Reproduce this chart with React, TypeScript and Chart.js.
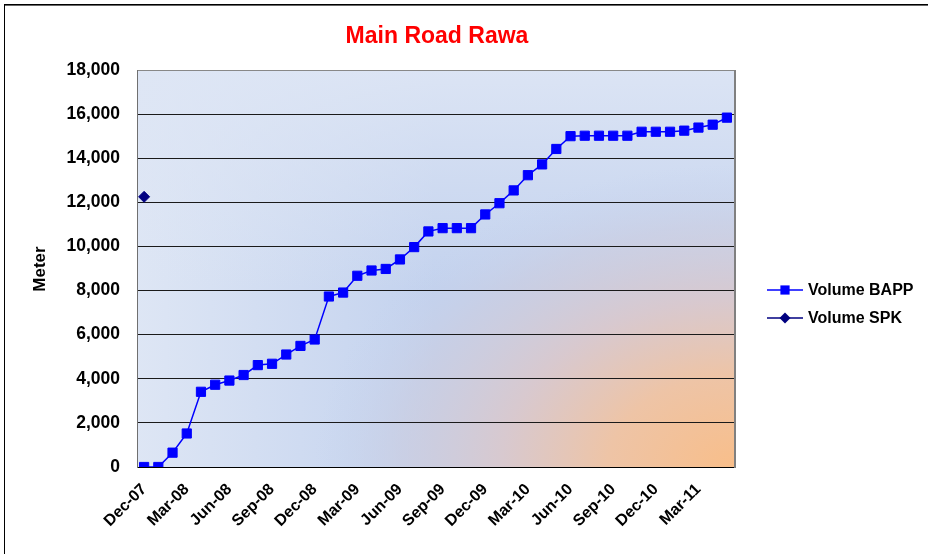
import React, { useEffect, useRef } from "react";
import { Chart, registerables } from "chart.js";

Chart.register(...registerables);

const months = [
  "Dec-07", "Jan-08", "Feb-08", "Mar-08", "Apr-08", "May-08", "Jun-08", "Jul-08", "Aug-08", "Sep-08", "Oct-08", "Nov-08",
  "Dec-08", "Jan-09", "Feb-09", "Mar-09", "Apr-09", "May-09", "Jun-09", "Jul-09", "Aug-09", "Sep-09", "Oct-09", "Nov-09",
  "Dec-09", "Jan-10", "Feb-10", "Mar-10", "Apr-10", "May-10", "Jun-10", "Jul-10", "Aug-10", "Sep-10", "Oct-10", "Nov-10",
  "Dec-10", "Jan-11", "Feb-11", "Mar-11", "Apr-11", "May-11",
];

const volumeBAPP = [
  0, 0, 650, 1520, 3410, 3730, 3920, 4170, 4620, 4680, 5100, 5490,
  5780, 7730, 7910, 8670, 8910, 8980, 9410, 9970, 10680, 10830, 10830, 10830,
  11450, 11960, 12540, 13230, 13720, 14420, 15000, 15020, 15020, 15020, 15020, 15200,
  15200, 15200, 15250, 15390, 15520, 15840,
];

const volumeSPK: (number | null)[] = [12250, ...new Array(41).fill(null)];

const yTicks = [0, 2000, 4000, 6000, 8000, 10000, 12000, 14000, 16000, 18000];

const TITLE = "Main Road Rawa";
const Y_TITLE = "Meter";
const FONT = '"Liberation Sans", Arial, sans-serif';

const decorPlugin = {
  id: "decor",
  beforeDraw(chart: any) {
    const { ctx, chartArea } = chart;
    const { left, top, right, bottom } = chartArea;
    const w = right - left;
    const h = bottom - top;
    ctx.save();
    ctx.fillStyle = "#ffffff";
    ctx.fillRect(0, 0, chart.width, chart.height);
    ctx.beginPath();
    ctx.rect(left, top, w, h);
    ctx.clip();
    // base blue
    ctx.fillStyle = "#c3d2ee";
    ctx.fillRect(left, top, w, h);
    // light from left
    const lx = ctx.createLinearGradient(left, 0, left + w * 0.5, 0);
    lx.addColorStop(0, "rgba(223,231,245,0.95)");
    lx.addColorStop(1, "rgba(223,231,245,0)");
    ctx.fillStyle = lx;
    ctx.fillRect(left, top, w, h);
    // light from top
    const ly = ctx.createLinearGradient(0, top, 0, top + h * 0.55);
    ly.addColorStop(0, "rgba(222,230,245,0.9)");
    ly.addColorStop(1, "rgba(222,230,245,0)");
    ctx.fillStyle = ly;
    ctx.fillRect(left, top, w, h);
    // warm elliptical glow bottom right
    ctx.save();
    ctx.translate(right, bottom);
    const sy = 0.72;
    ctx.scale(1, sy);
    const R = 420;
    const rg = ctx.createRadialGradient(0, 0, 0, 0, 0, R);
    rg.addColorStop(0, "rgba(248,190,138,1)");
    rg.addColorStop(0.3, "rgba(238,196,166,1)");
    rg.addColorStop(0.55, "rgba(218,200,204,0.92)");
    rg.addColorStop(0.8, "rgba(204,204,222,0.55)");
    rg.addColorStop(1, "rgba(196,210,238,0)");
    ctx.fillStyle = rg;
    ctx.fillRect(-R, -R / sy, R, R / sy);
    ctx.restore();
    ctx.restore();
  },
  afterDraw(chart: any) {
    const { ctx, chartArea } = chart;
    ctx.save();
    // plot area right border
    ctx.fillStyle = "#808080";
    ctx.fillRect(Math.round(chartArea.right), Math.round(chartArea.top), 2, Math.round(chartArea.bottom - chartArea.top) + 1);
    // outer chart border
    ctx.fillStyle = "#000000";
    ctx.fillRect(4, 4, chart.width - 4, 1);
    ctx.fillStyle = "#666666";
    ctx.fillRect(4, 5, chart.width - 4, 1);
    ctx.fillStyle = "#000000";
    ctx.fillRect(4, 4, 1, chart.height - 4);
    // title
    ctx.fillStyle = "#ff0000";
    ctx.font = `bold 23px ${FONT}`;
    ctx.textAlign = "center";
    ctx.textBaseline = "alphabetic";
    ctx.fillText(TITLE, 437, 43);
    // y axis title
    ctx.save();
    ctx.translate(40, 269);
    ctx.rotate(-Math.PI / 2);
    ctx.fillStyle = "#000000";
    ctx.font = `bold 17px ${FONT}`;
    ctx.textBaseline = "middle";
    ctx.fillText(Y_TITLE, 0, 0);
    ctx.restore();
    // legend
    const legendY = [290, 318];
    chart.data.datasets.forEach((ds: any, i: number) => {
      const y = legendY[i];
      ctx.strokeStyle = ds.borderColor;
      ctx.lineWidth = ds.borderWidth;
      ctx.beginPath();
      ctx.moveTo(767, y);
      ctx.lineTo(803, y);
      ctx.stroke();
      ctx.fillStyle = ds.backgroundColor;
      const r = ds.pointRadius;
      if (ds.pointStyle === "rect") {
        const s = Math.SQRT1_2 * r;
        ctx.fillRect(785 - s, y - s, 2 * s, 2 * s);
      } else {
        ctx.beginPath();
        ctx.moveTo(785 - r, y);
        ctx.lineTo(785, y - r);
        ctx.lineTo(785 + r, y);
        ctx.lineTo(785, y + r);
        ctx.closePath();
        ctx.fill();
      }
      ctx.fillStyle = "#000000";
      ctx.font = `bold 16px ${FONT}`;
      ctx.textAlign = "left";
      ctx.textBaseline = "middle";
      ctx.fillText(ds.label, 808, y + 1);
    });
    ctx.restore();
  },
};

export default function App() {
  const ref = useRef<HTMLCanvasElement | null>(null);
  useEffect(() => {
    document.body.style.margin = "0";
    if (!ref.current) return;
    const chart = new Chart(ref.current, {
      type: "line",
      data: {
        labels: months,
        datasets: [
          {
            label: "Volume BAPP",
            data: volumeBAPP,
            borderColor: "#0000ff",
            backgroundColor: "#0000ff",
            borderWidth: 1.5,
            pointStyle: "rect",
            pointRadius: 6.5,
            pointBorderWidth: 1,
            pointBorderColor: "#0000ff",
            pointBackgroundColor: "#0000ff",
            tension: 0,
          },
          {
            label: "Volume SPK",
            data: volumeSPK,
            borderColor: "#000080",
            backgroundColor: "#000080",
            borderWidth: 1.5,
            pointStyle: "rectRot",
            pointRadius: 5.5,
            pointBorderWidth: 1,
            pointBorderColor: "#000080",
            pointBackgroundColor: "#000080",
            tension: 0,
          },
        ],
      },
      options: {
        responsive: false,
        animation: false,
        devicePixelRatio: 1,
        layout: { padding: { left: 0, top: 70, right: 194, bottom: 0 } },
        plugins: {
          legend: { display: false },
          title: { display: false },
          tooltip: { enabled: false },
        },
        scales: {
          x: {
            type: "category",
            offset: true,
            grid: { display: false },
            border: { display: true, color: "#000000", width: 1 },
            ticks: {
              autoSkip: false,
              maxRotation: 45,
              minRotation: 45,
              padding: 5,
              color: "#000000",
              font: { family: FONT, size: 16, weight: "bold" },
              callback: (_v: any, i: number) => (i % 3 === 0 ? months[i] : ""),
            },
            afterFit: (s: any) => {
              s.height = 87;
            },
          },
          y: {
            min: 0,
            max: 18000,
            afterBuildTicks: (s: any) => {
              s.ticks = yTicks.map((v) => ({ value: v }));
            },
            grid: {
              color: (c: any) => (c.tick && c.tick.value === 18000 ? "#888888" : "#1a1a1a"),
              lineWidth: 1,
              drawTicks: false,
            },
            border: { display: true, color: "#707070", width: 1 },
            ticks: {
              padding: 17,
              color: "#000000",
              font: { family: FONT, size: 17.5, weight: "bold" },
              callback: (v: any) => Number(v).toLocaleString("en-US"),
            },
            afterFit: (s: any) => {
              s.width = 137;
            },
          },
        },
      },
      plugins: [decorPlugin],
    } as any);
    return () => chart.destroy();
  }, []);
  return (
    <div style={{ width: 928, height: 554 }}>
      <canvas ref={ref} width={928} height={554} style={{ display: "block" }} />
    </div>
  );
}
